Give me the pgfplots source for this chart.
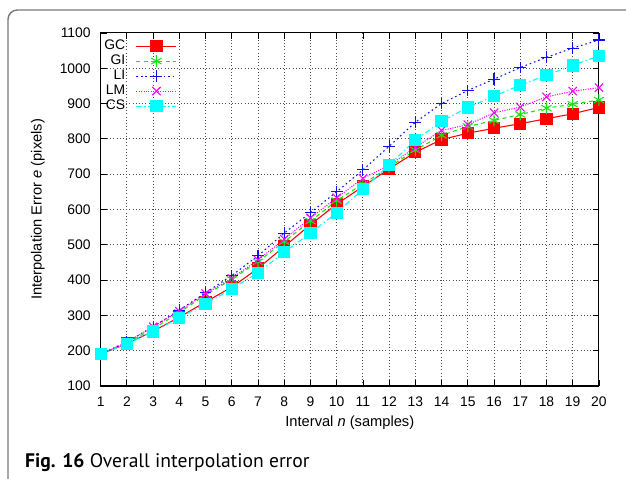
\documentclass[border=0pt]{standalone}
\usepackage{pgfplots}
\pgfplotsset{compat=1.18}
\usepackage{fontspec}
\setmainfont{Liberation Sans}
\newfontfamily\capfont{PT Sans}
\definecolor{gcRed}{HTML}{FF0000}
\definecolor{giGreen}{HTML}{14E614}
\definecolor{liBlue}{HTML}{1010F0}
\definecolor{lmMag}{HTML}{FF00FF}
\definecolor{csCyan}{HTML}{00FFFF}
\definecolor{frameGray}{HTML}{7A7A7A}

\begin{document}
\begin{tikzpicture}
\begin{axis}[
  at={(0,0)}, anchor=south west,
  scale only axis, width=373.7pt, height=264.8pt,
  xmin=1, xmax=20, ymin=100, ymax=1100,
  xtick={1,...,20}, ytick={100,200,...,1100},
  font=\fontsize{10.4}{12}\selectfont,
  /pgf/number format/assume math mode=true,
  /pgf/number format/set thousands separator={},
  axis line style={line width=0.8pt},
  tick style={black, line width=0.6pt},
  major tick length=4.5pt,
  grid=major,
  major grid style={dotted, line width=0.75pt, black!70},
  yticklabel style={xshift=-4pt},
  xticklabel style={yshift=-4.5pt},
  xlabel={Interval \textit{n} (samples)},
  ylabel={Interpolation Error \textit{e} (pixels)},
  label style={font=\fontsize{11}{13}\selectfont},
  xlabel style={at={(axis description cs:0.5,-0.105)}, anchor=center},
  ylabel style={at={(axis description cs:-0.126,0.5)}, anchor=center},
  legend plot pos=right,
  legend cell align=right,
  legend image code/.code={\draw[mark repeat=2,mark phase=2,#1] plot coordinates {(0pt,0pt)(15pt,0pt)(30pt,0pt)};},
  legend style={draw=none, fill=none, inner sep=0pt, outer sep=0pt,
    at={(axis description cs:0.1531,0.984)}, anchor=north east,
    column sep=8pt,
    nodes={inner sep=0pt, text height=8pt, text depth=3.25pt}},
  every axis plot/.append style={line width=0.8pt, mark options={solid}},
]
\addplot[color=gcRed, mark=square*, mark size=4.2pt] coordinates {
(1,190) (2,220) (3,255) (4,295) (5,338) (6,380) (7,433) (8,495) (9,557) (10,615)
(11,665) (12,715) (13,762) (14,798) (15,816) (16,830) (17,843) (18,857) (19,871) (20,889)};
\addlegendentry{GC}
\addplot[color=giGreen, dash pattern=on 3pt off 2.5pt, mark=asterisk, mark size=4.4pt] coordinates {
(1,190) (2,222) (3,262) (4,308) (5,358) (6,402) (7,452) (8,509) (9,567) (10,625)
(11,672) (12,720) (13,768) (14,810) (15,835) (16,852) (17,869) (18,887) (19,898) (20,910)};
\addlegendentry{GI}
\addplot[color=liBlue, dash pattern=on 1.2pt off 2.2pt, mark=+, mark size=4.4pt] coordinates {
(1,190) (2,225) (3,268) (4,315) (5,364) (6,413) (7,469) (8,533) (9,591) (10,650)
(11,712) (12,779) (13,847) (14,900) (15,937) (16,969) (17,1002) (18,1031) (19,1057) (20,1080)};
\addlegendentry{LI}
\addplot[color=lmMag, dash pattern=on 0.8pt off 1pt, mark=x, mark size=4.4pt] coordinates {
(1,190) (2,224) (3,268) (4,312) (5,362) (6,405) (7,457) (8,516) (9,576) (10,633)
(11,688) (12,725) (13,776) (14,824) (15,840) (16,874) (17,890) (18,919) (19,935) (20,945)};
\addlegendentry{LM}
\addplot[color=csCyan, dash pattern=on 4pt off 2pt on 1pt off 2pt, mark=square*, mark size=4.2pt] coordinates {
(1,190) (2,219) (3,254) (4,293) (5,333) (6,375) (7,421) (8,479) (9,533) (10,591)
(11,657) (12,726) (13,796) (14,850) (15,889) (16,921) (17,952) (18,980) (19,1008) (20,1035)};
\addlegendentry{CS}
\end{axis}
\draw[frameGray, line width=1.1pt, rounded corners=7pt] (-69.5pt,-75pt) -- (-69.5pt,282pt) -- (400pt,282pt);
\node[anchor=base west, inner sep=0pt, font=\capfont\fontsize{14.7}{17}\selectfont] at (-56.8pt,-61.5pt) {\textbf{Fig. 16} Overall interpolation error};
\pgfresetboundingbox
\path[use as bounding box] (-75.5pt,-69.75pt) rectangle (394pt,289.5pt);
\end{tikzpicture}
\end{document}
